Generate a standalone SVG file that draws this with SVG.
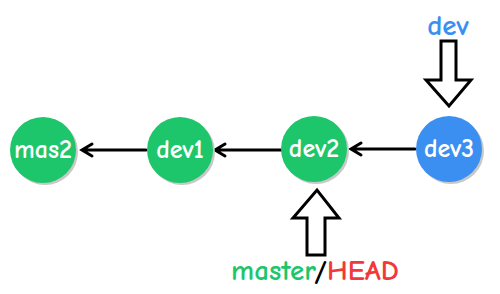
<svg xmlns="http://www.w3.org/2000/svg" width="500" height="294" viewBox="0 0 500 294">
<style>
.g{fill:#1ec66b}
.b{fill:#3a8ff1}
.sh{fill:#c8c8c8}
.t{font-family:"Comic Sans MS","Comic Neue","DejaVu Sans",sans-serif;font-size:26px;font-weight:bold;fill:#fff;text-anchor:middle}
.c{stroke:#000;stroke-width:3;fill:none;stroke-linecap:round;stroke-linejoin:miter}
.blk{stroke:#000;stroke-width:3;fill:#fff;stroke-linejoin:miter}
.lab{font-family:"Comic Sans MS","Comic Neue","DejaVu Sans",sans-serif;font-size:29px;font-weight:bold}
</style>
<g id="connectors">
<path class="c" d="M146,150 L83,150 M92,144 L82,150 L92,156"/>
<path class="c" d="M281,150 L216,150 M225,144 L215,150 L225,156"/>
<path class="c" d="M415,149 L352,149 M361,143 L351,149 L361,155"/>
</g>
<g id="mas2">
<circle class="sh" cx="45" cy="152" r="33"/>
<circle class="g" cx="43" cy="150" r="33"/>
<text class="t" x="43" y="158">mas2</text>
</g>
<g id="dev1">
<circle class="sh" cx="182" cy="152" r="33"/>
<circle class="g" cx="180" cy="150" r="33"/>
<text class="t" x="180" y="158">dev1</text>
</g>
<g id="dev2">
<circle class="sh" cx="316" cy="151" r="33"/>
<circle class="g" cx="314" cy="149" r="33"/>
<text class="t" x="314" y="157">dev2</text>
</g>
<g id="dev3">
<circle class="sh" cx="451" cy="151" r="33"/>
<circle class="b" cx="449" cy="149" r="33"/>
<text class="t" x="449" y="157">dev3</text>
</g>
<g id="dev-pointer">
<text class="lab" x="448" y="35" text-anchor="middle" fill="#3a8ff1" font-size="25">dev</text>
<path class="blk" d="M441,41 L456,41 L456,80 L471,80 L449,106 L426,80 L441,80 Z"/>
</g>
<g id="master-pointer">
<path class="blk" d="M307,255 L325,255 L325,218 L339,218 L317,190 L293,218 L307,218 Z"/>
<text class="lab" x="315" y="280" text-anchor="middle"><tspan fill="#1ec66b">master</tspan><tspan fill="#000">/</tspan><tspan fill="#f03a3a">HEAD</tspan></text>
</g>
</svg>
